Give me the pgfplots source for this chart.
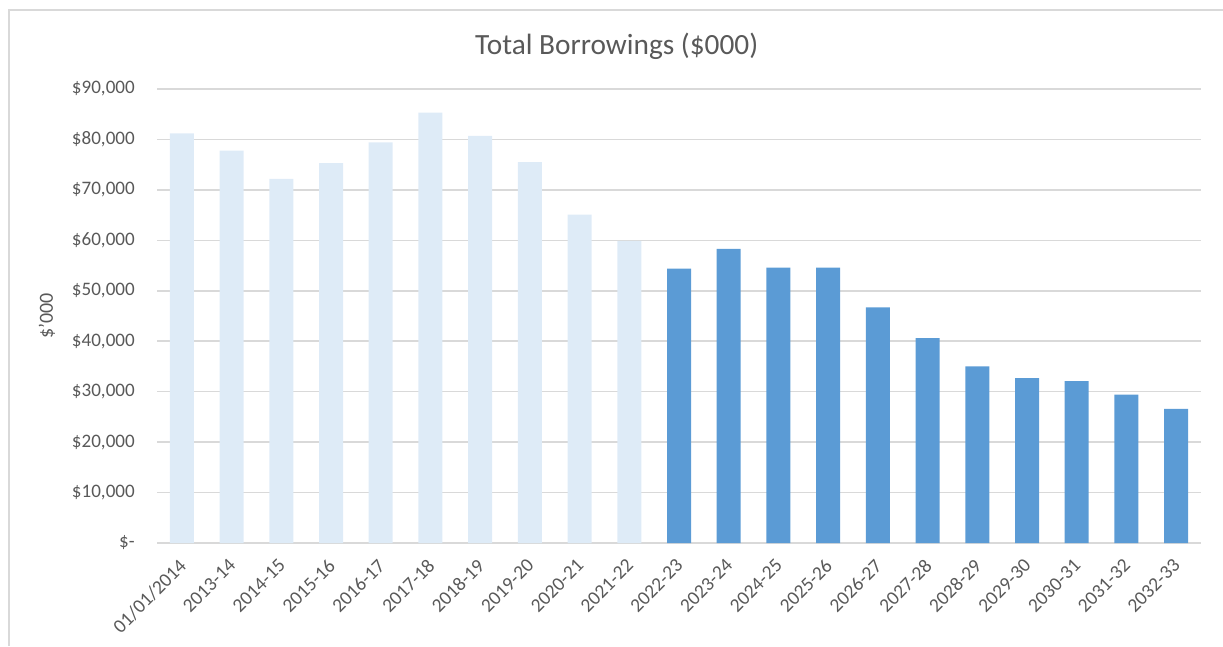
\documentclass[border=0pt]{standalone}
\usepackage{pgfplots}
\pgfplotsset{compat=1.18}
\usepackage{fontspec}
\setmainfont{Carlito}
\definecolor{lightbar}{HTML}{DEEBF7}
\definecolor{darkbar}{HTML}{5B9BD5}
\definecolor{gridc}{HTML}{D9D9D9}
\definecolor{txt}{HTML}{595959}
\begin{document}
\begin{tikzpicture}
\path[use as bounding box] (0pt,0pt) rectangle (917.25pt,484.5pt);
\draw[gridc, line width=1.1pt] (6.75pt,0pt) -- (6.75pt,477pt) -- (917.25pt,477pt);
\begin{axis}[
  at={(117.75pt,77.25pt)}, anchor=south west,
  width=783pt, height=340.5pt, scale only axis,
  xmin=-0.5, xmax=20.5, ymin=0, ymax=90000,
  scaled y ticks=false,
  axis line style={draw=none},
  major tick length=0pt,
  ymajorgrids, grid style={gridc, line width=1.1pt},
  ytick={0,10000,20000,30000,40000,50000,60000,70000,80000,90000},
  yticklabels={\$-,\$10{,}000,\$20{,}000,\$30{,}000,\$40{,}000,\$50{,}000,\$60{,}000,\$70{,}000,\$80{,}000,\$90{,}000},
  yticklabel style={anchor=east, inner sep=0pt, xshift=-16.5pt, font=\fontsize{14.3}{16}\selectfont, text=txt},
  xtick={0,...,20},
  xticklabels={01/01/2014,2013-14,2014-15,2015-16,2016-17,2017-18,2018-19,2019-20,2020-21,2021-22,2022-23,2023-24,2024-25,2025-26,2026-27,2027-28,2028-29,2029-30,2030-31,2031-32,2032-33},
  xticklabel style={xshift=-3pt, yshift=-11pt, rotate=45, anchor=north east, inner sep=0pt, font=\fontsize{14.6}{16}\selectfont, text=txt},
  ylabel={\$'000},
  every axis y label/.style={at={(axis description cs:-0.1054,0.5)}, rotate=90, anchor=center, font=\fontsize{15}{17}\selectfont, text=txt},
  title={Total Borrowings (\$000)},
  every axis title/.style={at={(axis description cs:0.4403,1.094)}, anchor=center, font=\fontsize{22}{26}\selectfont, text=txt},
  clip=false,
]
\addplot[ybar, bar width=18pt, fill=lightbar, draw=none] coordinates {
(0,81200) (1,77800) (2,72200) (3,75300) (4,79400) (5,85300) (6,80700) (7,75500) (8,65100) (9,59900)};
\addplot[ybar, bar width=18pt, fill=darkbar, draw=none] coordinates {
(10,54400) (11,58300) (12,54600) (13,54600) (14,46700) (15,40600) (16,35000) (17,32700) (18,32100) (19,29400) (20,26600)};
\end{axis}
\end{tikzpicture}
\end{document}
